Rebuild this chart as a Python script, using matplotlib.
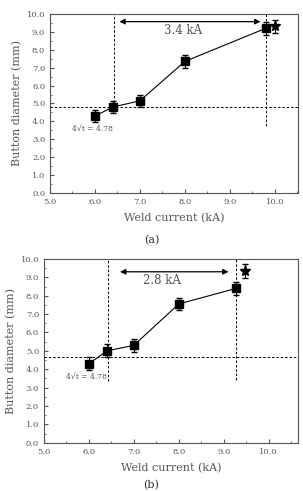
import matplotlib
matplotlib.use("Agg")
import matplotlib.pyplot as plt
from matplotlib.ticker import MultipleLocator, FormatStrFormatter

# panel (a)
cur_a = [6.0, 6.4, 7.0, 8.0, 9.8]
dia_a = [4.3, 4.8, 5.15, 7.35, 9.2]
err_a = [0.35, 0.35, 0.35, 0.35, 0.35]
star_a = (10.0, 9.3, 0.35)
hline_a = 4.78
vlines_a = [(6.42, 4.6), (9.81, 3.75)]
arrow_a = (6.48, 9.74, 9.57)
label_a = "3.4 kA"
label_pos_a = (7.95, 9.1)

# panel (b)
cur_b = [6.0, 6.4, 7.0, 8.0, 9.28]
dia_b = [4.3, 5.0, 5.3, 7.55, 8.4]
err_b = [0.35, 0.35, 0.35, 0.35, 0.35]
star_b = (9.48, 9.35, 0.4)
hline_b = 4.68
vlines_b = [(6.42, 3.35), (9.28, 3.4)]
arrow_b = (6.63, 9.17, 9.3)
label_b = "2.8 kA"
label_pos_b = (7.62, 8.8)

GRAY = "#555555"
plt.rcParams['font.family'] = ['DejaVu Serif']


def draw_panel(ax, cur, dia, err, star, hline, vlines, arrow, label, label_pos, xmax):
    ax.errorbar(cur, dia, yerr=err, fmt='s-', color='black', ms=5.5, lw=0.8,
                elinewidth=0.8, capsize=2.5, zorder=3)
    ax.errorbar([star[0]], [star[1]], yerr=[star[2]], fmt='*', color='black',
                ms=8, elinewidth=0.8, capsize=2.5, zorder=3)
    ax.axhline(hline, color='black', ls='--', lw=0.7, dashes=(2.5, 2))
    for x, ylow in vlines:
        ax.plot([x, x], [ylow, 10.0], color='black', ls='--', lw=0.7, dashes=(2.5, 2))
    ax.annotate('', xy=(arrow[0], arrow[2]), xytext=(arrow[1], arrow[2]),
                arrowprops=dict(arrowstyle='<|-|>', color='black', lw=0.9,
                                mutation_scale=8))
    ax.text(label_pos[0], label_pos[1], label, ha='center', va='center',
            fontsize=8.5, color=GRAY)
    ax.text(5.5, 3.6, "4\u221at = 4.78", ha='left', va='center',
            fontsize=5.5, color=GRAY)
    ax.set_xlim(5.0, xmax)
    ax.set_ylim(0, 10.0)
    ax.xaxis.set_major_locator(MultipleLocator(1.0))
    ax.xaxis.set_minor_locator(MultipleLocator(0.5))
    ax.yaxis.set_major_locator(MultipleLocator(1.0))
    ax.yaxis.set_minor_locator(MultipleLocator(0.5))
    ax.xaxis.set_major_formatter(FormatStrFormatter('%.1f'))
    ax.yaxis.set_major_formatter(FormatStrFormatter('%.1f'))
    ax.tick_params(which='both', direction='in', labelsize=6, labelcolor=GRAY,
                   color=GRAY, top=False, right=False)
    ax.tick_params(which='major', length=3)
    ax.tick_params(which='minor', length=1.5)
    for s in ax.spines.values():
        s.set_color(GRAY)
        s.set_linewidth(0.8)
    ax.set_xlabel('Weld current (kA)', fontsize=8, color=GRAY, labelpad=5)
    ax.set_ylabel('Button diameter (mm)', fontsize=8, color=GRAY, labelpad=3)


fig = plt.figure(figsize=(3.03, 4.91), dpi=100)
ax1 = fig.add_axes([0.165, 0.607, 0.818, 0.3646])
ax2 = fig.add_axes([0.145, 0.098, 0.838, 0.3747])

draw_panel(ax1, cur_a, dia_a, err_a, star_a, hline_a, vlines_a, arrow_a,
           label_a, label_pos_a, 10.51)
draw_panel(ax2, cur_b, dia_b, err_b, star_b, hline_b, vlines_b, arrow_b,
           label_b, label_pos_b, 10.65)

fig.text(0.5, 1 - 240 / 491, '(a)', ha='center', va='center', fontsize=8, color='#333333')
fig.text(0.5, 1 - 485 / 491, '(b)', ha='center', va='center', fontsize=8, color='#333333')

fig.savefig('out.png', dpi=100)
